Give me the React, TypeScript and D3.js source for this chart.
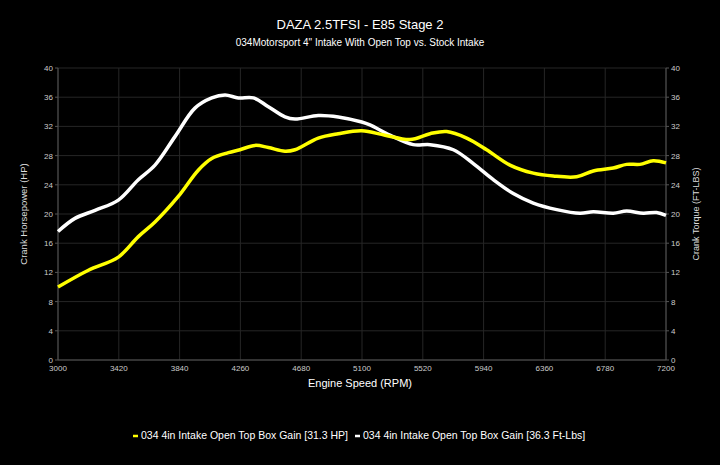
import React from "react";
import * as d3 from "d3";

const rpmTicks = [3000, 3420, 3840, 4260, 4680, 5100, 5520, 5940, 6360, 6780, 7200];
const yTicks = [0, 4, 8, 12, 16, 20, 24, 28, 32, 36, 40];

// 034 4in Intake Open Top Box Gain [HP]
const hpRpm = [3000, 3210, 3417, 3555, 3670, 3831, 3969, 4062, 4177, 4257, 4361, 4453, 4568, 4637, 4798, 4936, 5098, 5259, 5432, 5570, 5685, 5823, 5961, 6122, 6283, 6421, 6583, 6698, 6836, 6928, 7020, 7112, 7200];
const hpGain = [10.0, 12.3, 14.1, 16.9, 18.9, 22.4, 26.0, 27.6, 28.4, 28.8, 29.4, 29.1, 28.6, 28.8, 30.4, 31.0, 31.4, 30.8, 30.2, 31.0, 31.3, 30.4, 28.8, 26.7, 25.6, 25.2, 25.1, 25.9, 26.3, 26.8, 26.8, 27.3, 27.0];

// 034 4in Intake Open Top Box Gain [Ft-Lbs]
const tqRpm = [3000, 3117, 3256, 3417, 3555, 3670, 3808, 3946, 4062, 4154, 4246, 4350, 4453, 4568, 4637, 4798, 4936, 5098, 5155, 5293, 5454, 5570, 5731, 5869, 6007, 6145, 6283, 6445, 6606, 6698, 6836, 6928, 7043, 7135, 7200];
const tqGain = [17.6, 19.4, 20.5, 21.9, 24.7, 26.7, 30.6, 34.5, 35.9, 36.3, 35.9, 35.9, 34.7, 33.3, 33.0, 33.5, 33.3, 32.6, 32.2, 30.8, 29.5, 29.5, 28.8, 26.9, 24.7, 22.8, 21.5, 20.6, 20.1, 20.3, 20.1, 20.4, 20.1, 20.2, 19.8];

const legendLabels = [
  "034 4in Intake Open Top Box Gain [31.3 HP]",
  "034 4in Intake Open Top Box Gain [36.3 Ft-Lbs]",
];

const W = 720, H = 465;
const margin = { top: 68, right: 54, bottom: 105, left: 58 };
const font = "'Liberation Sans', Arial, sans-serif";

export default function App() {
  const x = d3.scaleLinear().domain([3000, 7200]).range([margin.left, W - margin.right]);
  const y = d3.scaleLinear().domain([0, 40]).range([H - margin.bottom, margin.top]);

  const line = d3
    .line<[number, number]>()
    .x((d) => x(d[0]))
    .y((d) => y(d[1]))
    .curve(d3.curveCatmullRom.alpha(0.5));

  const hpPath = line(hpRpm.map((r, i) => [r, hpGain[i]]));
  const tqPath = line(tqRpm.map((r, i) => [r, tqGain[i]]));

  const x0 = x(3000), x1 = x(7200), y0 = y(0), y1 = y(40);

  return (
    <svg
      width={W}
      height={H}
      style={{ position: "absolute", left: 0, top: 0, background: "#000" }}
      fontFamily={font}
    >
      <rect width={W} height={H} fill="#000" />

      <text x={W / 2} y={29} textAnchor="middle" fill="#fff" fontSize={13}>
        DAZA 2.5TFSI - E85 Stage 2
      </text>
      <text x={W / 2} y={46} textAnchor="middle" fill="#fff" fontSize={10}>
        034Motorsport 4" Intake With Open Top vs. Stock Intake
      </text>

      {/* grid */}
      {yTicks.map((t) => (
        <line key={"gy" + t} x1={x0} x2={x1} y1={y(t)} y2={y(t)} stroke="#262626" strokeWidth={1} />
      ))}
      {rpmTicks.map((t) => (
        <line key={"gx" + t} x1={x(t)} x2={x(t)} y1={y0} y2={y1} stroke="#262626" strokeWidth={1} />
      ))}

      {/* axes */}
      <line x1={x0} x2={x0} y1={y0} y2={y1} stroke="#555" />
      <line x1={x1} x2={x1} y1={y0} y2={y1} stroke="#555" />
      <line x1={x0} x2={x1} y1={y0} y2={y0} stroke="#555" />

      {yTicks.map((t) => (
        <g key={"ly" + t}>
          <line x1={x0 - 3} x2={x0} y1={y(t)} y2={y(t)} stroke="#555" />
          <text x={x0 - 5} y={y(t) + 3} textAnchor="end" fill="#ccc" fontSize={8}>
            {t}
          </text>
          <line x1={x1} x2={x1 + 3} y1={y(t)} y2={y(t)} stroke="#555" />
          <text x={x1 + 5} y={y(t) + 3} textAnchor="start" fill="#ccc" fontSize={8}>
            {t}
          </text>
        </g>
      ))}
      {rpmTicks.map((t) => (
        <text key={"lx" + t} x={x(t)} y={y0 + 11} textAnchor="middle" fill="#ccc" fontSize={8}>
          {t}
        </text>
      ))}

      <text x={W / 2} y={y0 + 27} textAnchor="middle" fill="#fff" fontSize={11}>
        Engine Speed (RPM)
      </text>
      <text
        transform={`translate(27,${(y0 + y1) / 2}) rotate(-90)`}
        textAnchor="middle"
        fill="#ddd"
        fontSize={9.5}
      >
        Crank Horsepower (HP)
      </text>
      <text
        transform={`translate(699,${(y0 + y1) / 2}) rotate(-90)`}
        textAnchor="middle"
        fill="#ddd"
        fontSize={9}
      >
        Crank Torque (FT-LBS)
      </text>

      {/* series */}
      <path d={tqPath ?? ""} fill="none" stroke="#fff" strokeWidth={3.5} strokeLinejoin="round" />
      <path d={hpPath ?? ""} fill="none" stroke="#ffff00" strokeWidth={3.5} strokeLinejoin="round" />

      {/* legend */}
      <g fontSize={10.5}>
        <line x1={133} x2={138} y1={436} y2={436} stroke="#ffff00" strokeWidth={2.5} />
        <text x={141} y={439} fill="#fff">
          {legendLabels[0]}
        </text>
        <line x1={355} x2={360} y1={436} y2={436} stroke="#fff" strokeWidth={2.5} />
        <text x={363} y={439} fill="#fff">
          {legendLabels[1]}
        </text>
      </g>
    </svg>
  );
}
